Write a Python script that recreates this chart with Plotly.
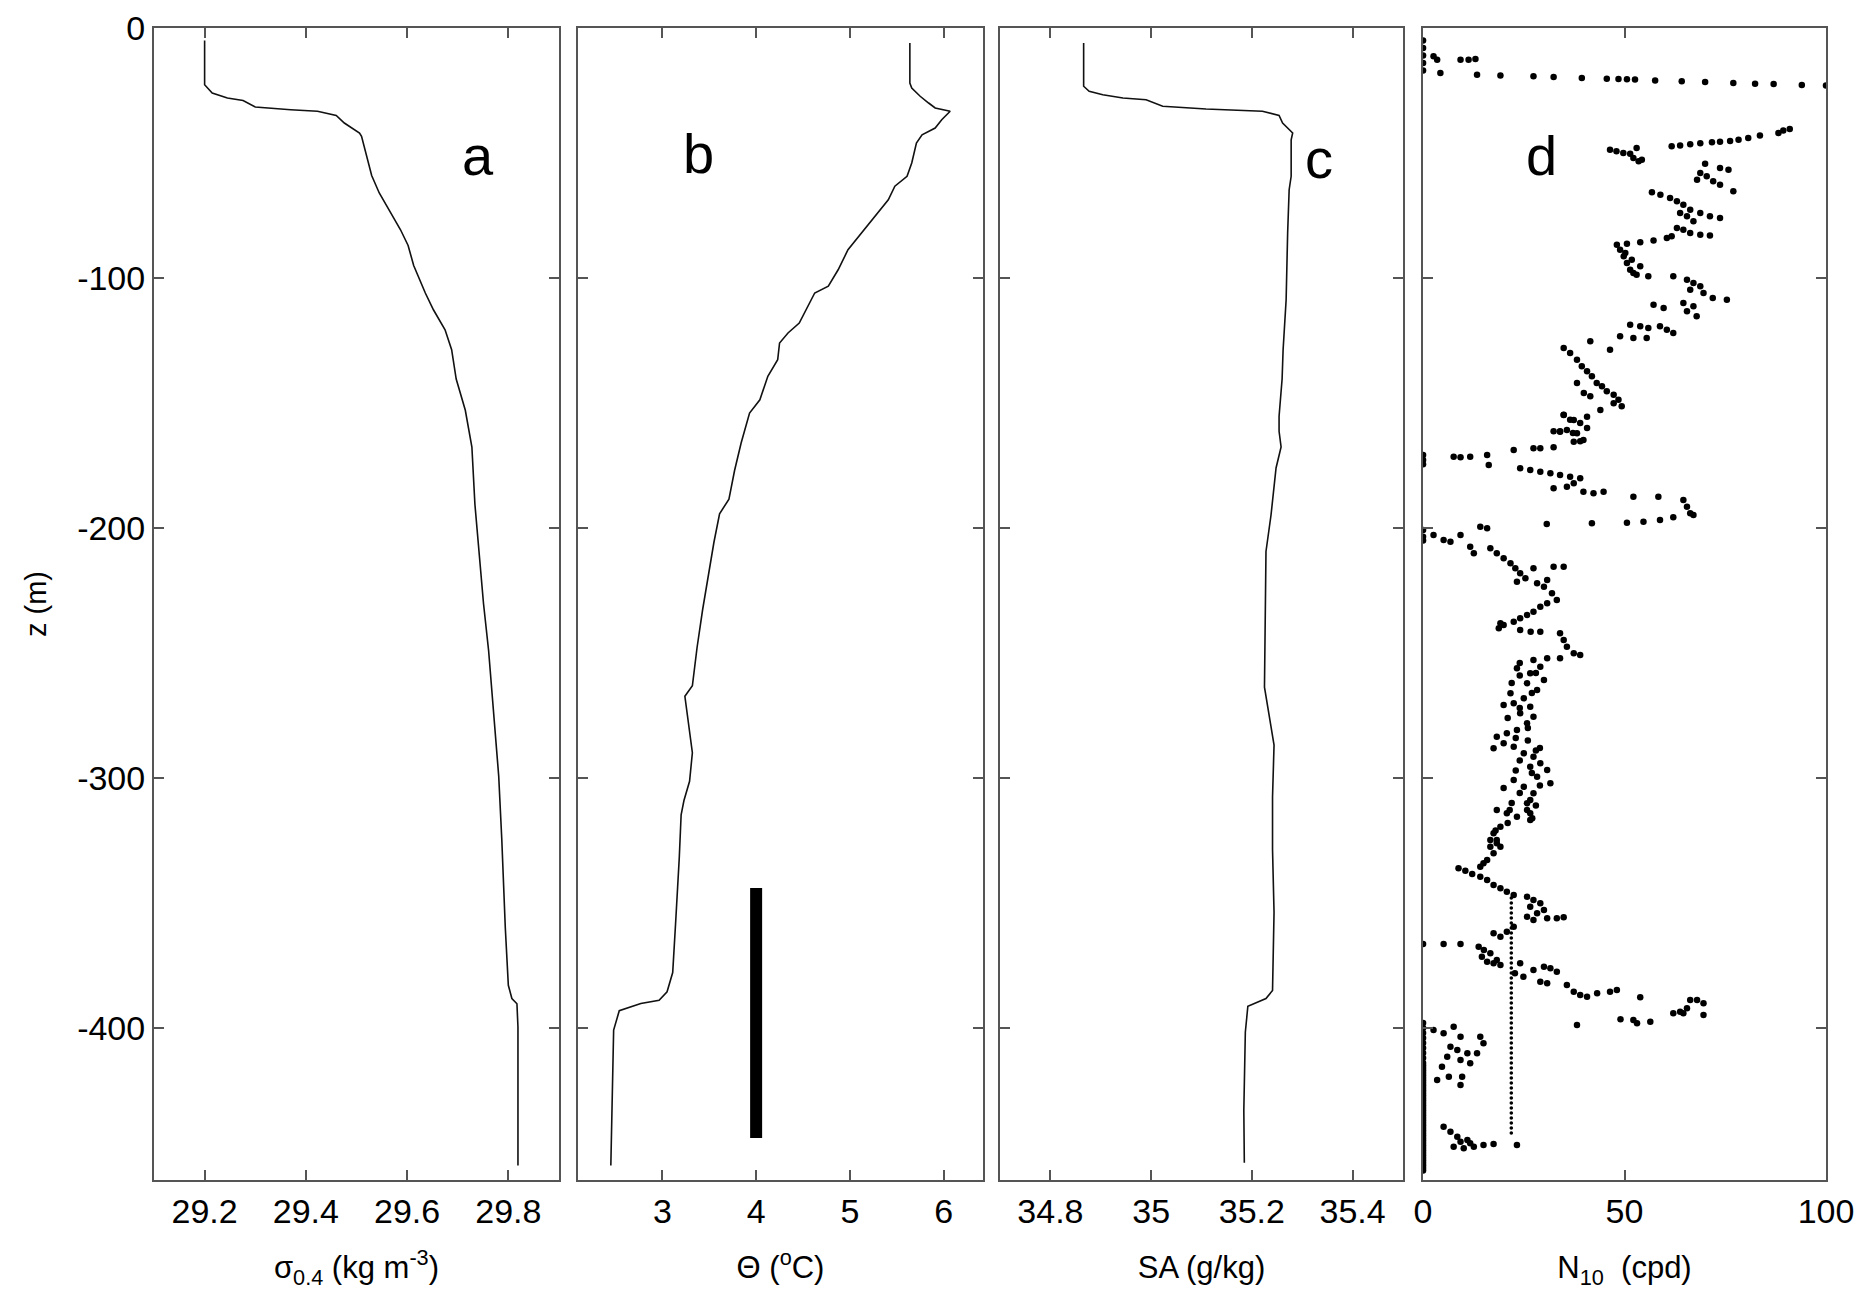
import plotly.graph_objects as go

# ---------------- data ----------------
sigma_z = [-5, -22.7, -26, -28, -29, -31.6, -32.7, -33.3, -35, -38, -42, -43.3, -59, -66, -80.7, -87,
           -95, -106, -112.7, -120.7, -128.7, -140.4, -152.9, -167.6, -190.6, -207.3, -230.3, -249,
           -274.2, -299.3, -324.3, -359.9, -382.9, -388.2, -390.3, -399.6, -455]
sigma_v = [29.2, 29.2, 29.215, 29.245, 29.276, 29.3, 29.37, 29.423, 29.46, 29.476, 29.506, 29.51, 29.53,
           29.545, 29.587, 29.602, 29.613, 29.636, 29.652, 29.675, 29.688, 29.697, 29.715, 29.728, 29.734,
           29.741, 29.751, 29.761, 29.771, 29.781, 29.787, 29.794, 29.8, 29.807, 29.817, 29.819, 29.819]

theta_z = [-6, -22, -24, -27.3, -30, -32, -33.3, -36.7, -40, -42.7, -46, -54, -59.3, -63.3, -68.7, -75.3,
           -82, -88.7, -96.7, -103.3, -106, -111.3, -118, -122, -126, -132.7, -139.3, -148.7, -154, -166,
           -177, -188.5, -194.3, -205.7, -221, -232.5, -247.8, -263.1, -267.3, -282.2, -289.9, -301.3,
           -309, -314.7, -332, -358.7, -377.8, -385.5, -388.9, -390.2, -393.1, -400.8, -416, -446.7, -455]
theta_v = [5.64, 5.64, 5.66, 5.75, 5.84, 5.91, 6.07, 5.98, 5.91, 5.77, 5.71, 5.66, 5.61, 5.48, 5.41, 5.27,
           5.125, 4.98, 4.875, 4.77, 4.625, 4.55, 4.46, 4.34, 4.25, 4.23, 4.125, 4.04, 3.93, 3.84,
           3.77, 3.71, 3.61, 3.55, 3.48, 3.43, 3.37, 3.32, 3.24, 3.29, 3.32, 3.29,
           3.23, 3.20, 3.18, 3.14, 3.11, 3.05, 2.965, 2.77, 2.54, 2.48, 2.47, 2.45, 2.45]

bar_theta = [4.0, 4.0]
bar_z = [-344, -444]

sa_z = [-6, -23.3, -25.3, -26.7, -28, -28.7, -31.3, -32.4, -33.3, -35, -38, -42, -44.7, -59.3, -64.7, -82,
        -108.7, -128.7, -140.4, -155.3, -161.3, -167.6, -176, -194.8, -209.4, -244.9, -263.7, -286.8,
        -307.7, -328.6, -353.7, -385, -388.2, -391.3, -401.7, -433, -453.9]
sa_v = [34.866, 34.866, 34.877, 34.904, 34.944, 34.99, 35.023, 35.109, 35.221, 35.254, 35.261, 35.281,
        35.278, 35.278, 35.274, 35.271, 35.268, 35.262, 35.26, 35.254, 35.254, 35.258, 35.248, 35.238,
        35.228, 35.227, 35.225, 35.244, 35.241, 35.241, 35.244, 35.241, 35.228, 35.192, 35.187, 35.184,
        35.185]

n10_pts = [
    (0, -5), (0, -8), (0, -11), (0, -14), (0, -17),
    (2.6, -11.3), (3.5, -12.7), (9.3, -12.7), (11.3, -12.7), (13, -12.4),
    (4.3, -18), (13.4, -18.7), (19.2, -19), (27.4, -19.3), (32.4, -19.6), (39.4, -20), (45.6, -20.3),
    (48.5, -20.4), (50.6, -20.5), (52.6, -20.6), (57.6, -21), (64.2, -21.3), (70, -21.6), (77, -22),
    (82.4, -22.3), (87, -22.4), (94, -22.8), (100, -23),
    (46.4, -48.7), (48, -49.3), (49.7, -50), (51.4, -50.3), (53, -48), (52.2, -52), (53.5, -53.3), (54.3, -52.7),
    (61.7, -47.3), (63.8, -47), (66.3, -46.5), (68.8, -46.1), (71.7, -45.7), (73.7, -45.5), (76.2, -45.2),
    (78.3, -44.7), (80.7, -44), (83.6, -43), (88.2, -42), (89.4, -41), (91, -40.4),
    (70, -54.3), (73.7, -56), (75.8, -56.7), (68.8, -58), (70.4, -59.3), (72, -61.3), (73.7, -62.7),
    (77, -65.3), (68, -60.7),
    (56.8, -65.7), (58.9, -66.7), (61.3, -68), (63, -69.3), (64.6, -70.7), (66.3, -72.7), (68.8, -74),
    (71.2, -75.3), (73.7, -76), (63.8, -74), (65.5, -75.3), (67.1, -77.3), (63, -80), (64.6, -80.7),
    (66.3, -82), (68.8, -82.7), (71.2, -83), (61.7, -83.3),
    (50.6, -86.3), (53.9, -85.7), (57.2, -85), (60.5, -84),
    (48.1, -86.7), (48.9, -88.7), (49.8, -91.3), (50.6, -94), (51.4, -96.7), (52.2, -98), (53.9, -95.3),
    (50.2, -90), (51.8, -92.7), (53, -98.7), (55.9, -99.3),
    (62.1, -99.3), (65.5, -100.7), (67.1, -102), (68.8, -103.3), (66.3, -104.7), (69.6, -106), (71.9, -108),
    (75.4, -108.7), (64.6, -110), (67.1, -111.3), (65.5, -113.3), (67.9, -115.3), (57.2, -110.7), (59.7, -112),
    (51.4, -118.7), (53.9, -119.3), (55.9, -120), (58.8, -119.3), (60.5, -120.7), (62.1, -122), (48.9, -123.3),
    (52.2, -124), (55.5, -124),
    (41.5, -125.3), (46.4, -128.7), (34.9, -128), (36.5, -130), (38.2, -132.7), (39.4, -135.3), (40.7, -137.3),
    (41.9, -139.3), (43.1, -142), (44.4, -143.3), (45.6, -145.3), (47.3, -146.7), (48.5, -148.7), (49.3, -151.3),
    (38.2, -142), (39.9, -146), (41.5, -147.3), (34.9, -154.7), (36.5, -156.7), (39, -158), (40.7, -160),
    (34, -161.3), (37.2, -162), (39, -165.3), (32.4, -161.3),
    (47.3, -150.1), (44, -152.8), (40.7, -155.5), (37.4, -156.8), (34.9, -154.8), (35.7, -160.8),
    (38.2, -162.1), (39.8, -164.8), (37.4, -165.5), (34, -161.5),
    (0, -170.8), (0, -172.8), (0, -174.5),
    (7.6, -171.5), (9.3, -171.7), (11.7, -171.5), (15.9, -170.8), (16.3, -174.8), (22.5, -168.8),
    (27.4, -168.1), (29.1, -168.1), (32.4, -167.7),
    (24.1, -176.1), (26.6, -176.8), (29.1, -177.5), (31.6, -178.1), (34, -178.8), (36.5, -179.5), (39, -180.1),
    (32.4, -184.1), (35.7, -183.5), (37.4, -182.1), (39.8, -185.5), (42.3, -186.1), (44.8, -185.5),
    (52.2, -187.5), (58.4, -187.5), (64.6, -188.8), (65.5, -191.5), (66.3, -194.1), (67.1, -194.8),
    (62.1, -195.7), (58.8, -196.8), (54.7, -197.5), (50.6, -197.9), (41.9, -198.1), (30.7, -198.4),
    (0, -200.8), (0, -203.5), (0, -205), (2.6, -202.8), (5.1, -204.8), (6.8, -205.5), (9.3, -202.8),
    (14.2, -199.5), (15.9, -200.1), (11.7, -207.5), (12.6, -210.1),
    (16.7, -208.1), (18.3, -210.1), (20, -212.1), (21.7, -214.1), (22.9, -216.1), (24.1, -218.1),
    (23.3, -221.5), (25.4, -220.1), (27.4, -216.1), (28.3, -222.1), (30, -223.5), (30.8, -220.8),
    (32.4, -215.5), (34.9, -215.5), (32, -226.1), (33.2, -228.8), (30.8, -230.1),
    (29.1, -231.5), (27.4, -233.5), (25.8, -234.8), (24.1, -236.1), (22.5, -237.5), (20, -238.8),
    (18.8, -240.1), (19.2, -238.1),
    (24.1, -240.8), (26.7, -241.5), (29.1, -241.5), (34, -242.1), (34.9, -244.8), (35.7, -247.5),
    (37.4, -250.1), (39, -250.8), (30.8, -252.1), (34, -252.1),
    (27.4, -252.8), (29.1, -255.5), (23.3, -256.1), (26.6, -258.1), (30, -260.8), (25.8, -262.1),
    (28.3, -264.8), (21.7, -266.1), (25, -268.1), (22.5, -270.1), (20, -270.8), (26.6, -271.5),
    (24.1, -274.1), (27.4, -275.5), (25.8, -278.1), (23.3, -280.8), (20.8, -282.1), (18.3, -283.5),
    (17.5, -288.1), (20, -286.1), (22.5, -287.5), (25, -290.1), (27.4, -291.5), (29.1, -294.1),
    (26.6, -295.5), (30.8, -296.8), (28.3, -299.5), (31.6, -302.1), (25, -303.5), (27.4, -306.1),
    (22.5, -300.8), (26.6, -308.8), (25.8, -312.8), (18.3, -312.8), (20.8, -314.1), (23.3, -315.5),
    (26.6, -316.8), (19.2, -319.5), (17.5, -322.1), (16.7, -324.8), (18.3, -326.1), (19.2, -327.5),
    (24, -254), (28, -258), (22, -262), (27, -266), (24, -272), (21, -276), (26, -280), (23, -284),
    (28, -289), (24, -293), (27, -298), (29, -303), (24, -306), (22, -310), (28, -311), (21, -318),
    (18, -321), (24, -259), (26, -285), (29, -288), (23, -297), (20, -304),
    (25.8, -310.1), (21.5, -312.8), (26.6, -314.1), (27.1, -316.1),
    (18.3, -324.8), (16.7, -327.5), (17.5, -330.1), (15.9, -332.8), (14.2, -335.5), (15, -334.1),
    (8.8, -336.1), (10.5, -337.1), (12.2, -338.4),
    (14.2, -339.5), (15.9, -340.8), (17.5, -342.8), (19.2, -344.1), (20.8, -345.5), (22.5, -346.8),
    (25.8, -347.5), (27.4, -348.8), (29.1, -350.1), (26.6, -351.5), (30, -352.8), (28.3, -354.1),
    (25.8, -355.5), (30.8, -356.1), (33.2, -356.1), (34.9, -355.7), (27.4, -356.8),
    (22.5, -359.5), (20.8, -361.5), (19.2, -363.5), (17.5, -362.1),
    (0, -366.4), (5.1, -366.4), (9.3, -366.4),
    (13.8, -367.5), (15.1, -368.8), (16.7, -370.1), (14.6, -371.5), (15.9, -373.5), (18.3, -372.8),
    (17.5, -374.1), (19.2, -374.8),
    (24.1, -374.1), (22.8, -378.1), (24.9, -379.5), (27.4, -376.8), (30, -375.5), (31.6, -376.1),
    (33.2, -377.5), (29.1, -381.5), (30.8, -382.1),
    (35.7, -382.8), (37.4, -385.5), (39, -386.8), (40.7, -387.5), (43.2, -386.1), (46.4, -385.5),
    (48.1, -384.8), (53.9, -387.7),
    (62.1, -394.1), (63.8, -393.5), (65.5, -392.1), (66.3, -388.8), (68, -388.8), (69.6, -390.1),
    (69.6, -394.8), (64.6, -394.1),
    (38.2, -398.8), (49, -396.5), (52.2, -396.8), (53.1, -398.1), (56.4, -397.5),
    (2.6, -400.8), (5.1, -402.1), (7.6, -399.5), (9.3, -403.5), (14.2, -403.5), (15, -406.1), (6.8, -407.5),
    (8.5, -408.8), (11, -410.1), (6, -411.5), (9.3, -412.8), (11.7, -414.1), (13.4, -410.1), (4.7, -415.5),
    (6.4, -419.5), (9.7, -419.5), (3.5, -420.8), (9.3, -422.8),
    (5.1, -439.5), (6.8, -441.5), (8.5, -443.5), (11, -444.8), (7.6, -447.5), (10.1, -448.1),
    (12.6, -447.5), (15, -446.8), (17.5, -446.4), (23.3, -446.8), (9.3, -445.5), (11.7, -446.1),
]
n10_x = [p[0] for p in n10_pts]
n10_z = [p[1] for p in n10_pts]

# column of N10 = 0 near the bottom
zero_col_z = [-398, -400, -402, -404, -406, -408, -410, -412, -414, -415, -416, -417, -418, -419, -420,
              -421, -422, -423, -424, -425, -426, -427, -428, -429, -430, -431, -432, -433, -434, -435,
              -436, -437, -438, -439, -440, -441, -442, -443, -444, -445, -446, -447, -448, -449, -450,
              -451, -452, -453, -454, -455, -456, -457]
zero_col_n = [0.0] * len(zero_col_z)

# dotted vertical column at N10 ~ 22
const_col_z = [-348, -350, -352, -354, -356, -358, -360, -362, -364, -366, -368, -370, -372, -374, -376,
               -378, -380, -382, -384, -386, -388, -390, -392, -394, -396, -398, -400, -402, -404, -406,
               -408, -410, -412, -414, -416, -418, -420, -422, -424, -426, -428, -430, -432, -434, -436,
               -438, -440, -442]
const_col_n = [21.9] * len(const_col_z)

x_ranges = [[29.1, 29.9], [2.1, 6.42], [34.7, 35.5], [0, 100]]
x_ticks = [[29.2, 29.4, 29.6, 29.8], [3, 4, 5, 6], [34.8, 35, 35.2, 35.4], [0, 50, 100]]
x_ticktext = [["29.2", "29.4", "29.6", "29.8"], ["3", "4", "5", "6"], ["34.8", "35", "35.2", "35.4"],
              ["0", "50", "100"]]
x_titles = ["σ<sub>0.4</sub> (kg m<sup>-3</sup>)", "Θ (<sup>o</sup>C)", "SA (g/kg)", "N<sub>10</sub>  (cpd)"]
y_ticks = [-400, -300, -200, -100, 0]
y_ticktext = ["-400", "-300", "-200", "-100", "0"]
panel_letters = ["a", "b", "c", "d"]
letter_pos = [(29.74, -51), (3.39, -50), (35.334, -52), (29.5, -51)]

# ---------------- figure ----------------
FONT = "Liberation Sans, Arial, sans-serif"
LINE = "#111111"
AX = "#555555"

fig = go.Figure()
fig.add_trace(go.Scatter(x=sigma_v, y=sigma_z, mode="lines", line=dict(color=LINE, width=1.6),
                         xaxis="x", yaxis="y", showlegend=False))
fig.add_trace(go.Scatter(x=theta_v, y=theta_z, mode="lines", line=dict(color=LINE, width=1.6),
                         xaxis="x2", yaxis="y2", showlegend=False))
fig.add_trace(go.Scatter(x=bar_theta, y=bar_z, mode="lines", line=dict(color="black", width=12),
                         xaxis="x2", yaxis="y2", showlegend=False))
fig.add_trace(go.Scatter(x=sa_v, y=sa_z, mode="lines", line=dict(color=LINE, width=1.6),
                         xaxis="x3", yaxis="y3", showlegend=False))
for xs, zs, sz in [(n10_x, n10_z, 6.5), (zero_col_n, zero_col_z, 6.5), (const_col_n, const_col_z, 3.6)]:
    fig.add_trace(go.Scatter(x=xs, y=zs, mode="markers",
                             marker=dict(color="black", size=sz, line=dict(width=0)),
                             xaxis="x4", yaxis="y4", showlegend=False, cliponaxis=True))

domains = [[0.0, 0.2422], [0.2536, 0.4958], [0.506, 0.747], [0.759, 1.0]]
layout = dict(
    width=1871, height=1307,
    margin=dict(l=146, r=53, t=20, b=135),
    paper_bgcolor="white", plot_bgcolor="white",
    font=dict(family=FONT, color="black", size=30),
    showlegend=False,
)
for i in range(4):
    sx = "" if i == 0 else str(i + 1)
    layout["xaxis" + sx] = dict(
        domain=domains[i], range=x_ranges[i], anchor="y" + sx,
        tickmode="array", tickvals=x_ticks[i], ticktext=x_ticktext[i],
        ticks="inside", ticklen=10, tickwidth=1.5, tickcolor=AX,
        showline=True, linecolor=AX, linewidth=2, mirror="ticks",
        showgrid=False, zeroline=False, automargin=False,
        tickfont=dict(family=FONT, size=34, color="black"),
        ticklabelstandoff=0,
        title=dict(text=x_titles[i], font=dict(family=FONT, size=31, color="black"), standoff=28),
    )
    layout["yaxis" + sx] = dict(
        domain=[0, 1], range=[-460.8, 0], anchor="x" + sx,
        tickmode="array", tickvals=y_ticks, ticktext=y_ticktext,
        ticks="inside", ticklen=10, tickwidth=1.5, tickcolor=AX,
        showline=True, linecolor=AX, linewidth=2, mirror="ticks",
        showgrid=False, zeroline=False, automargin=False,
        showticklabels=(i == 0),
        tickfont=dict(family=FONT, size=34, color="black"),
        ticklabelstandoff=0,
    )
layout["yaxis"]["title"] = dict(text="z (m)", font=dict(family=FONT, size=29, color="black"), standoff=22)

annotations = []
for i in range(4):
    sx = "" if i == 0 else str(i + 1)
    annotations.append(dict(text=panel_letters[i], x=letter_pos[i][0], y=letter_pos[i][1],
                            xref="x" + sx, yref="y" + sx, showarrow=False,
                            font=dict(family=FONT, size=56, color="black")))
layout["annotations"] = annotations
fig.update_layout(**layout)

fig.write_html("out.html")
